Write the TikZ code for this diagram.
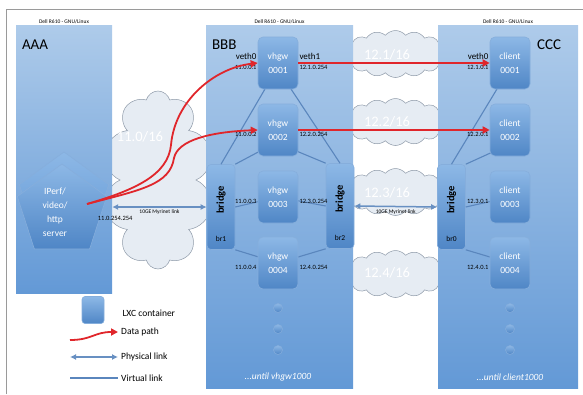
\documentclass[tikz,border=0pt]{standalone}
\usepackage{fontspec}
\setmainfont{Carlito}
\usepackage{xcolor}
\usepackage{tikz}
\usetikzlibrary{positioning, arrows.meta, shapes.geometric, shapes.symbols, shadings}

\definecolor{hostlight}{HTML}{AECBEA}
\definecolor{hostdark}{HTML}{6399D6}
\definecolor{lxclight}{HTML}{8DB8E6}
\definecolor{lxcdark}{HTML}{4F86C6}
\definecolor{lxcedge}{HTML}{86AEDC}
\definecolor{linkblue}{HTML}{6890C2}
\definecolor{vlinkblue}{HTML}{5A86BD}
\definecolor{pathred}{HTML}{E0262B}
\definecolor{cloudfill}{HTML}{E6ECF3}
\definecolor{cloudedge}{HTML}{8D99A8}
\definecolor{framegray}{HTML}{9A9A9A}

\tikzset{
  host/.style={rectangle, inner sep=0pt, top color=hostlight, bottom color=hostdark, draw=none},
  hostname/.style={font=\fontsize{15}{17}\selectfont, text=black, inner sep=0pt},
  dell/.style={font=\fontsize{5.5}{6}\selectfont, inner sep=1pt},
  lxc/.style={rectangle, rounded corners=5pt, minimum width=40pt, minimum height=52pt,
    top color=lxclight, bottom color=lxcdark, draw=lxcedge, line width=0.6pt,
    text=white, font=\fontsize{9.5}{14}\selectfont, align=center},
  bridgebox/.style={rectangle, rounded corners=4pt, minimum width=28pt, minimum height=85pt,
    top color=lxclight, bottom color=lxcdark, draw=lxcedge, line width=0.6pt},
  brtext/.style={font=\fontsize{10.5}{12}\bfseries\selectfont, inner sep=0pt},
  brname/.style={font=\fontsize{7.5}{9}\selectfont, inner sep=0pt},
  ifname/.style={font=\fontsize{9}{10}\selectfont, inner sep=1pt},
  iplabel/.style={font=\fontsize{6.5}{7}\selectfont, inner sep=1pt},
  net/.style={cloud, cloud ignores aspect, fill=cloudfill, draw=cloudedge, line width=0.5pt, inner sep=0pt},
  nettext/.style={font=\fontsize{14.5}{16}\selectfont, text=white},
  linktext/.style={font=\fontsize{5.5}{6}\selectfont, inner sep=1pt},
  datapath/.style={draw=pathred, line width=1.8pt, -{Triangle[length=7pt,width=7pt]}},
  plink/.style={draw=linkblue, line width=1.5pt, {Latex[length=6pt,width=6pt]}-{Latex[length=6pt,width=6pt]}},
  vlink/.style={draw=vlinkblue, line width=1.1pt},
  server/.style={regular polygon, regular polygon sides=5, minimum size=94pt, inner sep=0pt,
    top color=lxclight, draw=lxcedge, line width=0.6pt},
  dotball/.style={circle, minimum size=9pt, inner sep=0pt, top color=lxclight, bottom color=lxcdark, draw=lxcedge, line width=0.5pt},
  untiltext/.style={font=\fontsize{9.5}{11}\itshape\selectfont, text=white},
  legtext/.style={font=\fontsize{9.5}{11}\selectfont, inner sep=1pt}
}

\begin{document}
\begin{tikzpicture}[x=1pt, y=-1pt]
  \useasboundingbox (0,0) rectangle (583,394);
  \draw[framegray, line width=0.8pt] (6,394) -- (6,9) -- (583,9);

  % networks
  \node[net, minimum width=112pt, minimum height=178pt, cloud puffs=10] (net11) at (158,180) {};
  \foreach \n/\y in {1/54, 2/122, 3/192, 4/274}
    \node[net, minimum width=106pt, minimum height=47pt, cloud puffs=16, cloud puff arc=100] (net12\n) at (395.5,\y) {};

  % hosts
  \node[host, minimum width=96pt, minimum height=268pt] (aaa) at (64,159) {};
  \node[host, minimum width=147pt, minimum height=363pt] (bbb) at (279.5,206.5) {};
  \node[host, minimum width=140pt, minimum height=363pt] (ccc) at (508,206.5) {};
  \node[dell, above=0pt of aaa] (dellaaa) {Dell R610 - GNU/Linux};
  \node[dell, above=0pt of bbb] (dellbbb) {Dell R610 - GNU/Linux};
  \node[dell, above=0pt of ccc] (dellccc) {Dell R610 - GNU/Linux};
  \node[hostname, anchor=west] (taaa) at ([xshift=6pt,yshift=-20pt]aaa.north west) {AAA};
  \node[hostname, anchor=west] (tbbb) at ([xshift=6pt,yshift=-20pt]bbb.north west) {BBB};
  \node[hostname, anchor=east] (tccc) at ([xshift=-17pt,yshift=-20pt]ccc.north east) {CCC};

  % network names
  \node[nettext] (n11) at (140,137) {11.0/16};
  \node[nettext] (n121) at (387,55) {12.1/16};
  \node[nettext] (n122) at (387,122) {12.2/16};
  \node[nettext] (n123) at (387,193) {12.3/16};
  \node[nettext] (n124) at (387,273) {12.4/16};

  % server
  \node[server, bottom color=hostdark] (srvback) at (64,199) {};
  \node[server, bottom color=lxcdark] (srv) at (62,211) {};
  \node[text=white, font=\fontsize{9.5}{14}\selectfont, align=center] (srvtxt) at (55,212) {IPerf/\\video/\\http\\server};

  % bridges
  \node[bridgebox] (br1) at (221,207) {};
  \node[bridgebox] (br2) at (340,206) {};
  \node[bridgebox] (br0) at (451.5,207) {};
  \foreach \b in {br1, br2, br0} {
    \node[brtext, rotate=90] at ([yshift=7pt]\b.center) {bridge};
  }
  \node[brname] (br1n) at ([yshift=11pt]br1.south) {br1};
  \node[brname] (br2n) at ([yshift=11pt]br2.south) {br2};
  \node[brname] (br0n) at ([yshift=11pt]br0.south) {br0};

  % virtual links
  \foreach \i/\y in {1/63, 2/130, 3/197, 4/263} {
    \coordinate (vhpos\i) at (278,\y);
    \coordinate (clpos\i) at (510,\y);
  }
  \draw[vlink] (br1.north) -- ([xshift=-13pt]vhpos1 |- 0,89);
  \draw[vlink] (br1.north east) -- ([xshift=-16pt]vhpos2 |- 0,150);
  \draw[vlink] (br1.east) -- (vhpos3);
  \draw[vlink] (br1.south east) -- (vhpos4);
  \draw[vlink] (br2.north) -- ([xshift=13pt]vhpos1 |- 0,89);
  \draw[vlink] (br2.north west) -- ([xshift=16pt]vhpos2 |- 0,150);
  \draw[vlink] (br2.west) -- (vhpos3);
  \draw[vlink] (br2.south west) -- (vhpos4);
  \draw[vlink] (br0.north) -- ([xshift=-13pt]clpos1 |- 0,89);
  \draw[vlink] (br0.north east) -- ([xshift=-13pt]clpos2 |- 0,150);
  \draw[vlink] (br0.east) -- (clpos3);
  \draw[vlink] (br0.south east) -- (clpos4);

  % containers
  \foreach \i/\y in {1/63, 2/130, 3/197, 4/263} {
    \node[lxc] (vh\i) at (vhpos\i) {vhgw\\000\i};
    \node[lxc] (cl\i) at (clpos\i) {client\\000\i};
    \node[iplabel, anchor=north east] (ipa\i) at ([yshift=-1pt]vh\i.west) {11.0.0.\i};
    \node[iplabel, anchor=north west] (ipb\i) at ([yshift=-1pt]vh\i.east) {12.\i.0.254};
    \node[iplabel, anchor=north east] (ipc\i) at ([yshift=-1pt]cl\i.west) {12.\i.0.1};
  }
  \node[ifname, anchor=south east] (veth0b) at ([yshift=2pt]vh1.west) {veth0};
  \node[ifname, anchor=south west] (veth1b) at ([yshift=2pt]vh1.east) {veth1};
  \node[ifname, anchor=south east] (veth0c) at ([yshift=2pt]cl1.west) {veth0};

  % ...and so on
  \foreach \k/\y in {1/308, 2/329, 3/350} {
    \node[dotball] (vd\k) at (278,\y) {};
    \node[dotball] (cd\k) at (510,\y) {};
  }
  \node[untiltext] (untilb) at ([yshift=11pt]vh4 |- bbb.south) {...until vhgw1000};
  \node[untiltext] (untilc) at ([yshift=11pt]cl4 |- ccc.south) {...until client1000};

  % physical links
  \draw[plink] (aaa.east |- br1.west) -- (br1.west) node[linktext, midway, below=1pt] (lk1) {10GE Myrinet link};
  \draw[plink] (br2.east) -- (br0.west) node[linktext, midway, below=1pt] (lk2) {10GE Myrinet link};
  \node[iplabel, anchor=north] (srvip) at ([xshift=3pt,yshift=-8pt]aaa.east |- br1.west) {11.0.254.254};

  % data paths
  \coordinate (src) at ([xshift=25pt,yshift=7pt]srv.center);
  \draw[datapath] (src) .. controls (135,190) and (168,175) .. (171,145)
                        .. controls (175,100) and (215,68) .. (vh1.west);
  \draw[datapath] (src) .. controls (140,190) and (170,185) .. (174,158)
                        .. controls (178,140) and (210,132) .. (vh2.west);
  \draw[datapath] (vh1.east) -- (cl1.west);
  \draw[datapath] (vh2.east) -- (cl2.west);

  % legend
  \node[lxc, minimum width=22pt, minimum height=27pt, rounded corners=3pt] (lxcleg) at (93,310) {};
  \node[legtext, right=17pt of lxcleg, yshift=-3pt] (lxclegt) {LXC container};
  \coordinate (dpA) at (70,340);
  \coordinate (dpB) at (118,332);
  \draw[datapath] (dpA) .. controls (92,340) and (94,332) .. (dpB);
  \node[legtext, right=2pt of dpB] (dpt) {Data path};
  \coordinate (phA) at (70,357);
  \coordinate (phB) at (118,357);
  \draw[plink] (phA) -- (phB);
  \node[legtext, right=2pt of phB] (pht) {Physical link};
  \coordinate (vlA) at (70,378);
  \coordinate (vlB) at (118,378);
  \draw[vlink, line width=1.5pt] (vlA) -- (vlB);
  \node[legtext, right=2pt of vlB] (vlt) {Virtual link};
\end{tikzpicture}
\end{document}
